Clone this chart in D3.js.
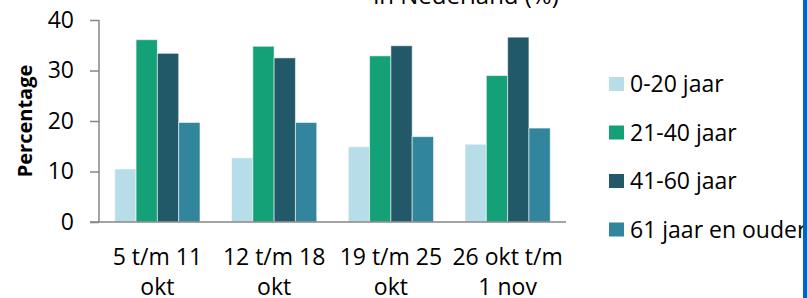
<!DOCTYPE html>
<html lang="nl">
<head>
    <meta charset="UTF-8">
    <title>Percentage per leeftijdsgroep</title>
    <script src="https://d3js.org/d3.v7.min.js"></script>
    <style>
        body { margin: 0; background: #fff; }
        svg { display: block; }
        text { font-family: "Open Sans", sans-serif; fill: #000; }
        .axis path, .axis line { stroke: #868686; stroke-width: 1.5px; }
        .axis text { font-size: 23px; }
        .bar { stroke: #fff; stroke-opacity: 0.55; stroke-width: 1px; }
    </style>
</head>
<body>
    <script>
        const weeks = [["5 t/m 11", "okt"], ["12 t/m 18", "okt"], ["19 t/m 25", "okt"], ["26 okt t/m", "1 nov"]];
        const groups = ["0-20 jaar", "21-40 jaar", "41-60 jaar", "61 jaar en ouder"];
        const colors = ["#b7dde8", "#14a178", "#215968", "#31859c"];
        const values = [
            [10.5, 36.1, 33.4, 19.7],
            [12.7, 34.8, 32.5, 19.7],
            [14.9, 32.9, 34.9, 16.9],
            [15.4, 29.0, 36.6, 18.6]
        ];
        const yTicks = [0, 10, 20, 30, 40];

        const width = 807, height = 298;
        const plot = { left: 99, right: 566, top: 20, bottom: 222 };

        const svg = d3.select("body").append("svg")
            .attr("width", width)
            .attr("height", height);

        const x0 = d3.scaleBand()
            .domain(d3.range(weeks.length))
            .range([plot.left, plot.right])
            .paddingInner(0.27)
            .paddingOuter(0.135);

        const x1 = d3.scaleBand()
            .domain(d3.range(groups.length))
            .range([0, x0.bandwidth()]);

        const y = d3.scaleLinear()
            .domain([0, 40])
            .range([plot.bottom, plot.top]);

        // title, mostly above the visible area
        svg.append("text")
            .attr("x", 466)
            .attr("y", 4)
            .attr("text-anchor", "middle")
            .style("font-size", "24px")
            .text("in Nederland (%)");

        // bars
        svg.append("g").selectAll("g")
            .data(values)
          .enter().append("g")
            .attr("transform", (d, i) => `translate(${x0(i)},0)`)
          .selectAll("rect")
            .data(d => d)
          .enter().append("rect")
            .attr("class", "bar")
            .attr("x", (d, j) => x1(j))
            .attr("width", x1.bandwidth())
            .attr("y", d => y(d))
            .attr("height", d => y(0) - y(d))
            .attr("fill", (d, j) => colors[j]);

        // y axis
        const yAxis = svg.append("g")
            .attr("class", "axis")
            .attr("transform", `translate(${plot.left},0)`)
            .call(d3.axisLeft(y).tickValues(yTicks).tickSize(9).tickSizeOuter(0).tickPadding(16));
        yAxis.select(".domain").attr("d", `M0,${plot.top}V${plot.bottom}`);

        // x axis line
        svg.append("line")
            .attr("x1", plot.left - 9)
            .attr("x2", plot.right)
            .attr("y1", plot.bottom)
            .attr("y2", plot.bottom)
            .attr("stroke", "#868686")
            .attr("stroke-width", 1.5);

        // x labels, two lines each
        const xl = svg.append("g").selectAll("text")
            .data(weeks)
          .enter().append("text")
            .attr("x", (d, i) => x0(i) + x0.bandwidth() / 2)
            .attr("y", 265)
            .attr("text-anchor", "middle")
            .style("font-size", "23px");
        xl.append("tspan").text(d => d[0]);
        xl.append("tspan")
            .attr("x", (d, i) => x0(i) + x0.bandwidth() / 2)
            .attr("dy", 30)
            .text(d => d[1]);

        // y title
        svg.append("text")
            .attr("transform", "translate(32,121) rotate(-90)")
            .attr("text-anchor", "middle")
            .style("font-size", "20px")
            .style("font-weight", "bold")
            .text("Percentage");

        // legend
        const legend = svg.append("g").selectAll("g")
            .data(groups)
          .enter().append("g")
            .attr("transform", (d, i) => `translate(609,${84 + i * 48.5})`);
        legend.append("rect")
            .attr("x", 0)
            .attr("y", -7)
            .attr("width", 15)
            .attr("height", 14)
            .attr("fill", (d, i) => colors[i]);
        legend.append("text")
            .attr("x", 21)
            .attr("y", 8)
            .style("font-size", "23px")
            .text(d => d);

        // blue frame edge on the right
        svg.append("rect")
            .attr("x", 803)
            .attr("y", 0)
            .attr("width", 4)
            .attr("height", height)
            .attr("fill", "#0563c1");
    </script>
</body>
</html>
